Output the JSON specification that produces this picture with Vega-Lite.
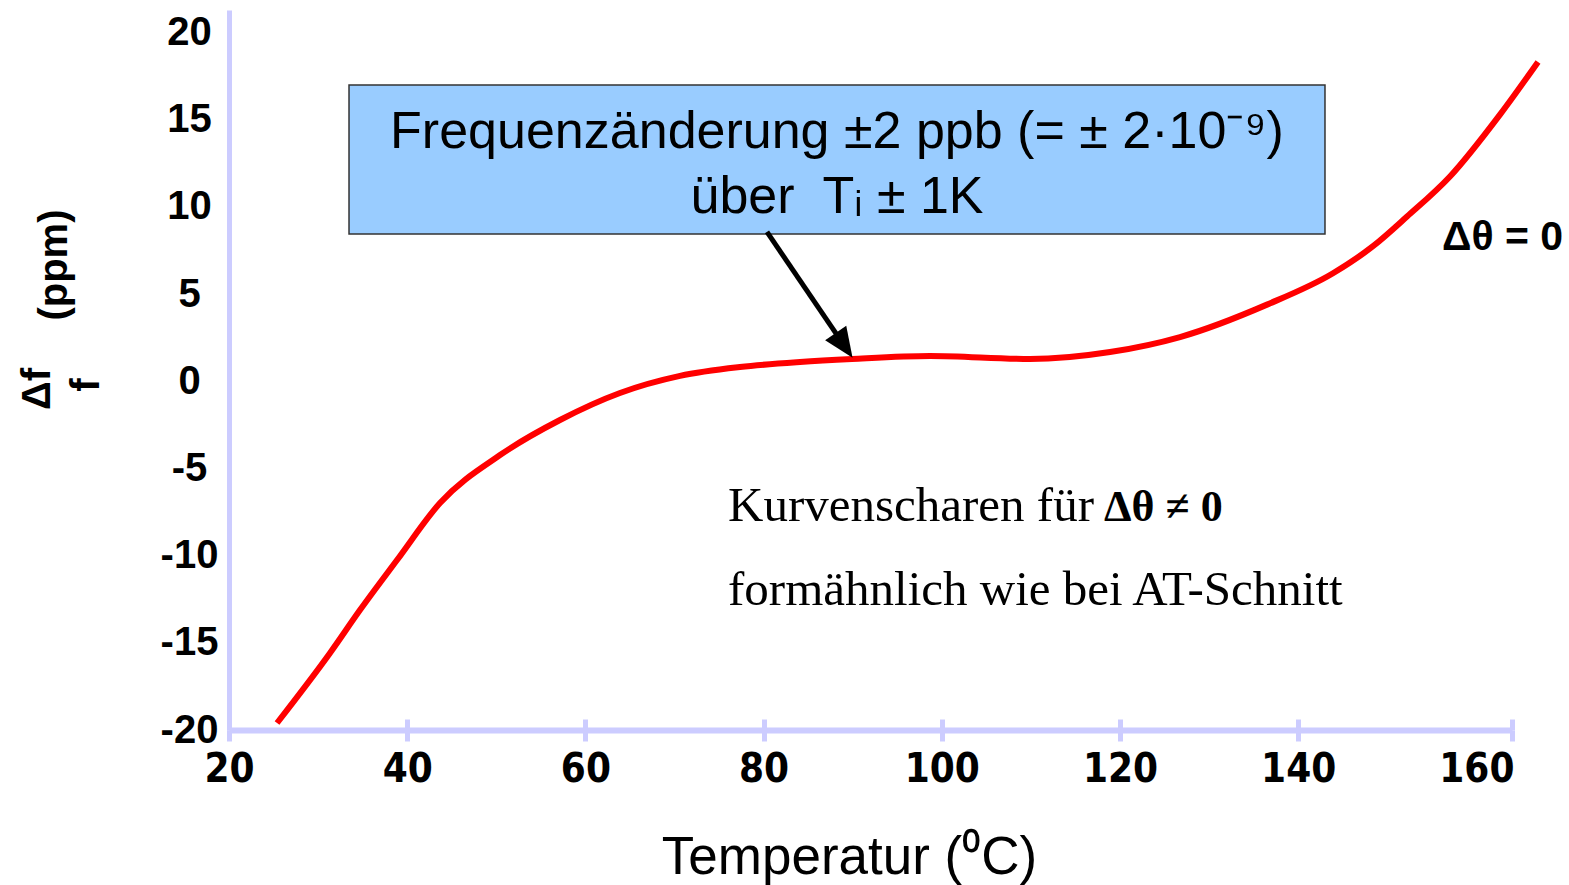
{
  "$schema": "https://vega.github.io/schema/vega-lite/v6.json",
  "width": 1283,
  "height": 720,
  "autosize": {"type": "none"},
  "padding": {"left": 229, "top": 10, "right": 57, "bottom": 155},
  "background": "white",
  "config": {"view": {"stroke": null}, "font": "Liberation Sans"},
  "resolve": {"axis": {"x": "independent", "y": "independent"}},
  "datasets": {
    "curve": [
      {"temp": 25.39, "df": -19.6},
      {"temp": 31.34, "df": -15.58},
      {"temp": 34.7, "df": -13.12},
      {"temp": 38.86, "df": -10.25},
      {"temp": 43.68, "df": -6.98},
      {"temp": 50.42, "df": -4.23},
      {"temp": 57.15, "df": -2.22},
      {"temp": 63.88, "df": -0.67},
      {"temp": 70.62, "df": 0.31},
      {"temp": 77.35, "df": 0.82},
      {"temp": 84.09, "df": 1.11},
      {"temp": 89.92, "df": 1.28},
      {"temp": 98.68, "df": 1.45},
      {"temp": 109.9, "df": 1.28},
      {"temp": 118.88, "df": 1.68},
      {"temp": 126.74, "df": 2.54},
      {"temp": 136.5, "df": 4.4},
      {"temp": 143.91, "df": 6.2},
      {"temp": 148.4, "df": 7.75},
      {"temp": 152.22, "df": 9.45},
      {"temp": 157.04, "df": 11.75},
      {"temp": 162.65, "df": 15.3},
      {"temp": 166.92, "df": 18.32}
    ],
    "box": [{"x": 33.47, "x2": 143.01, "y": 17.0, "y2": 8.45}],
    "boxText": [
      {"x": 88.24, "y": 13.38, "text": "Frequenzänderung ±2 ppb (= ± 2·10⁻⁹)"},
      {"x": 88.24, "y": 9.66, "text": "über\u00a0 Tᵢ ± 1K"}
    ],
    "arrow": [{"x": 80.38, "y": 8.57, "x2": 89.04, "y2": 2.06}],
    "arrowHead": [{"x": 89.04, "y": 2.06}],
    "serifText": [
      {"x": 76.01, "y": -8.01, "text": "Kurvenscharen für"},
      {"x": 76.01, "y": -12.83, "text": "formähnlich wie bei AT-Schnitt"}
    ],
    "boldSerif": [{"x": 118.21, "y": -8.01, "text": "Δθ ≠ 0"}],
    "label": [{"x": 156.14, "y": 7.53, "text": "Δθ = 0"}],
    "ytitle": [
      {"x": -1.4, "y": -0.44, "text": "Δf"},
      {"x": 4.1, "y": -0.21, "text": "f"},
      {"x": 0.5, "y": 6.67, "text": "(ppm)"}
    ]
  },
  "layer": [
    {
      "data": {"name": "box"},
      "mark": {"type": "rect", "fill": "#99ccff", "stroke": "#333333", "strokeWidth": 1.5},
      "encoding": {
        "x": {
          "field": "x", "type": "quantitative",
          "scale": {"domain": [20, 164], "nice": false, "zero": false},
          "axis": {
            "orient": "top", "offset": -720, "values": [20, 40, 60, 80, 100, 120, 140, 164],
            "domain": false, "labels": false, "ticks": true, "tickSize": 11, "tickWidth": 5,
            "tickColor": "#ccccff", "grid": false, "title": null
          }
        },
        "x2": {"field": "x2"},
        "y": {
          "field": "y", "type": "quantitative",
          "scale": {"domain": [-20, 21.3], "nice": false, "zero": false},
          "axis": {
            "orient": "left",
            "values": [-20, -15, -10, -5, 0, 5, 10, 15, 20],
            "labelExpr": "datum.value < 0 ? '-' + abs(datum.value) : '' + datum.value",
            "domain": true, "domainColor": "#ccccff", "domainWidth": 5,
            "ticks": false, "tickSize": 0,
            "labelFont": "Liberation Sans", "labelFontWeight": "bold", "labelFontSize": 40,
            "labelAlign": "center",
            "labelColor": "black", "labelPadding": 40, "labelFlush": false, "labelOverlap": false,
            "grid": false, "title": null
          }
        },
        "y2": {"field": "y2"}
      }
    },
    {
      "data": {"name": "curve"},
      "mark": {"type": "line", "color": "#ff0000", "strokeWidth": 6, "interpolate": "monotone"},
      "encoding": {
        "x": {
          "field": "temp", "type": "quantitative",
          "axis": {
            "orient": "bottom",
            "values": [20, 40, 60, 80, 100, 120, 140, 160, 164],
            "domain": true, "domainColor": "#ccccff", "domainWidth": 6,
            "ticks": true, "tickSize": 11, "tickWidth": 5,
            "tickColor": {"condition": {"test": "datum.value == 160", "value": "rgba(0,0,0,0)"}, "value": "#ccccff"},
            "labelExpr": "datum.value == 164 ? '' : datum.label",
            "labelFont": "'Liberation Sans Narrow', 'DejaVu Sans Condensed', 'Liberation Sans', sans-serif",
            "labelFontWeight": "bold", "labelFontSize": 40,
            "labelColor": "black", "labelPadding": 8, "labelFlush": false, "labelOverlap": false,
            "grid": false,
            "title": "Temperatur (⁰C)", "titleFont": "Liberation Sans", "titleFontSize": 53,
            "titleFontWeight": "normal", "titleColor": "black",
            "titleX": 620, "titleY": 143, "titleBaseline": "alphabetic", "titleAlign": "center"
          }
        },
        "y": {"field": "df", "type": "quantitative", "axis": null}
      }
    },
    {
      "data": {"name": "arrow"},
      "mark": {"type": "rule", "color": "black", "strokeWidth": 5},
      "encoding": {
        "x": {"field": "x", "type": "quantitative", "axis": null},
        "x2": {"field": "x2"},
        "y": {"field": "y", "type": "quantitative", "axis": null},
        "y2": {"field": "y2"}
      }
    },
    {
      "data": {"name": "arrowHead"},
      "mark": {"type": "point", "shape": "M0,-1L0.85,1L-0.85,1Z", "size": 900, "angle": 145.8, "filled": true, "color": "black", "opacity": 1},
      "encoding": {
        "x": {"field": "x", "type": "quantitative", "axis": null},
        "y": {"field": "y", "type": "quantitative", "axis": null}
      }
    },
    {
      "data": {"name": "boxText"},
      "mark": {"type": "text", "font": "Liberation Sans", "fontSize": 52, "align": "center", "baseline": "alphabetic", "color": "black"},
      "encoding": {
        "x": {"field": "x", "type": "quantitative", "axis": null},
        "y": {"field": "y", "type": "quantitative", "axis": null},
        "text": {"field": "text"}
      }
    },
    {
      "data": {"name": "serifText"},
      "mark": {"type": "text", "font": "Liberation Serif", "fontSize": 49, "align": "left", "baseline": "alphabetic", "color": "black"},
      "encoding": {
        "x": {"field": "x", "type": "quantitative", "axis": null},
        "y": {"field": "y", "type": "quantitative", "axis": null},
        "text": {"field": "text"}
      }
    },
    {
      "data": {"name": "boldSerif"},
      "mark": {"type": "text", "font": "Liberation Serif", "fontSize": 44, "fontWeight": "bold", "align": "left", "baseline": "alphabetic", "color": "black"},
      "encoding": {
        "x": {"field": "x", "type": "quantitative", "axis": null},
        "y": {"field": "y", "type": "quantitative", "axis": null},
        "text": {"field": "text"}
      }
    },
    {
      "data": {"name": "label"},
      "mark": {"type": "text", "font": "Liberation Sans", "fontSize": 41, "fontWeight": "bold", "align": "left", "baseline": "alphabetic", "color": "black"},
      "encoding": {
        "x": {"field": "x", "type": "quantitative", "axis": null},
        "y": {"field": "y", "type": "quantitative", "axis": null},
        "text": {"field": "text"}
      }
    },
    {
      "data": {"name": "ytitle"},
      "mark": {"type": "text", "font": "Liberation Sans", "fontSize": 40, "fontWeight": "bold", "align": "center", "baseline": "middle", "angle": 270, "color": "black"},
      "encoding": {
        "x": {"field": "x", "type": "quantitative", "axis": null},
        "y": {"field": "y", "type": "quantitative", "axis": null},
        "text": {"field": "text"}
      }
    }
  ]
}
